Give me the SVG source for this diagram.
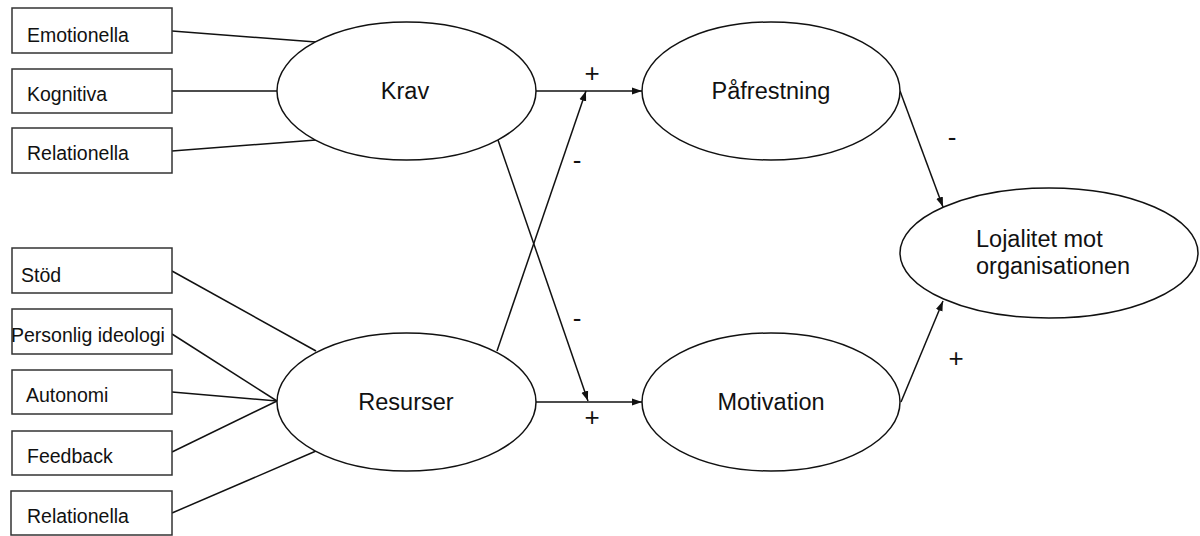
<svg xmlns="http://www.w3.org/2000/svg" width="1200" height="536" viewBox="0 0 1200 536">
<style>
.box{fill:#fff;stroke:#333;stroke-width:1.5}
.ell{fill:#fff;stroke:#111;stroke-width:1.5}
.bt{font-family:"Liberation Sans",Arial,sans-serif;font-size:19.5px;fill:#111}
.et{font-family:"Liberation Sans",Arial,sans-serif;font-size:23.5px;fill:#111}
.sg{font-family:"Liberation Sans",Arial,sans-serif;font-size:26px;fill:#111;text-anchor:middle}
.ln{stroke:#111;stroke-width:1.5;fill:none}
.ar{stroke:#111;stroke-width:1.5;fill:none;marker-end:url(#ah)}
</style>
<defs>
<marker id="ah" viewBox="0 0 10 10" refX="10" refY="5" markerWidth="10" markerHeight="10" markerUnits="userSpaceOnUse" orient="auto">
<path d="M0,1.5 L10,5 L0,8.5 Z" fill="#111"/>
</marker>
</defs>
<rect width="1200" height="536" fill="#fff"/>
<g id="connectors">
<line class="ln" x1="172" y1="31" x2="316" y2="42"/>
<line class="ln" x1="172" y1="91" x2="277" y2="91"/>
<line class="ln" x1="172" y1="151" x2="316" y2="140"/>
<line class="ln" x1="172" y1="271" x2="316" y2="351"/>
<line class="ln" x1="172" y1="334" x2="277" y2="401"/>
<line class="ln" x1="172" y1="392" x2="277" y2="401"/>
<line class="ln" x1="172" y1="452" x2="277" y2="401"/>
<line class="ln" x1="172" y1="513" x2="316" y2="451"/>
<line class="ar" x1="536" y1="91" x2="642" y2="91"/>
<line class="ar" x1="497" y1="351" x2="586" y2="91"/>
<line class="ar" x1="498" y1="140" x2="588" y2="401"/>
<line class="ar" x1="536" y1="402" x2="642" y2="402"/>
<line class="ar" x1="900" y1="91" x2="943" y2="207"/>
<line class="ar" x1="901" y1="402" x2="943" y2="301"/>
</g>
<g id="labels">
<text class="sg" x="592" y="82">+</text>
<text class="sg" x="577" y="169">-</text>
<text class="sg" x="577" y="327">-</text>
<text class="sg" x="592" y="426">+</text>
<text class="sg" x="952" y="146">-</text>
<text class="sg" x="956" y="367">+</text>
</g>
<g id="emotionella"><rect class="box" x="12" y="8" width="160" height="45"/><text class="bt" x="27" y="42">Emotionella</text></g>
<g id="kognitiva"><rect class="box" x="12" y="69" width="160" height="44"/><text class="bt" x="27" y="101">Kognitiva</text></g>
<g id="relationella1"><rect class="box" x="12" y="128" width="160" height="45"/><text class="bt" x="27" y="160">Relationella</text></g>
<g id="stod"><rect class="box" x="12" y="248" width="160" height="45"/><text class="bt" x="21" y="282">Stöd</text></g>
<g id="personlig"><rect class="box" x="12" y="309" width="160" height="45"/><text class="bt" x="11" y="342">Personlig ideologi</text></g>
<g id="autonomi"><rect class="box" x="12" y="370" width="160" height="44"/><text class="bt" x="26" y="402">Autonomi</text></g>
<g id="feedback"><rect class="box" x="12" y="431" width="160" height="44"/><text class="bt" x="27" y="463">Feedback</text></g>
<g id="relationella2"><rect class="box" x="11" y="491" width="161" height="44"/><text class="bt" x="27" y="523">Relationella</text></g>
<g id="krav"><ellipse class="ell" cx="406.5" cy="91" rx="129.5" ry="69"/><text class="et" x="405" y="99" text-anchor="middle">Krav</text></g>
<g id="resurser"><ellipse class="ell" cx="406.5" cy="402" rx="129.5" ry="69"/><text class="et" x="406" y="410" text-anchor="middle">Resurser</text></g>
<g id="pafrestning"><ellipse class="ell" cx="771" cy="91" rx="129" ry="69"/><text class="et" x="771" y="99" text-anchor="middle">Påfrestning</text></g>
<g id="motivation"><ellipse class="ell" cx="771" cy="402" rx="129" ry="69"/><text class="et" x="771" y="410" text-anchor="middle">Motivation</text></g>
<g id="lojalitet"><ellipse class="ell" cx="1049" cy="253" rx="149" ry="65"/><text class="et" x="976" y="247">Lojalitet mot</text><text class="et" x="976" y="274">organisationen</text></g>
</svg>
